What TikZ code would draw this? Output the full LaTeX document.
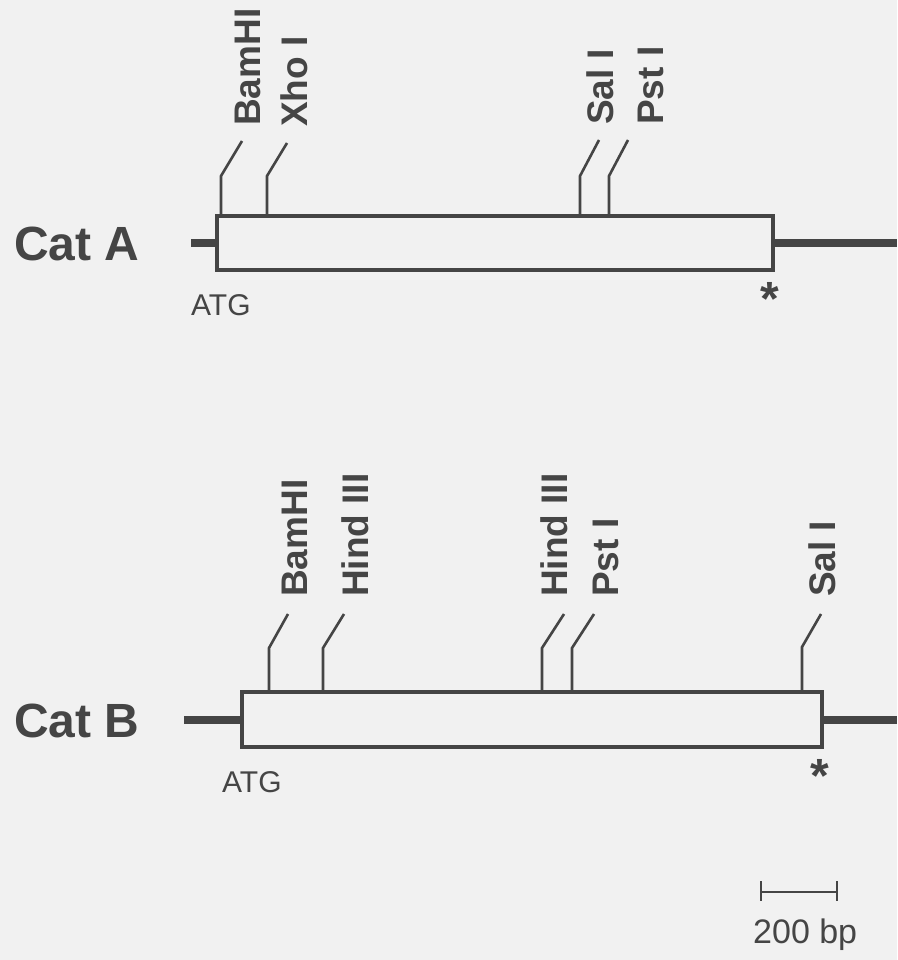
\documentclass[tikz,border=0pt]{standalone}
\usepackage{fontspec}
\setmainfont{Liberation Sans}
\definecolor{inkc}{HTML}{454545}
\definecolor{bgc}{HTML}{F1F1F1}
\begin{document}
\begin{tikzpicture}[x=1pt,y=-1pt,
  gene/.style={draw=inkc, line width=4.5pt, rectangle, inner sep=0pt, outer sep=0pt},
  flank/.style={draw=inkc, line width=8pt},
  siteline/.style={draw=inkc, line width=2.6pt},
  lbl/.style={text=inkc, font=\bfseries\fontsize{37}{37}\selectfont, rotate=90, anchor=base west, inner sep=0pt},
  catlbl/.style={text=inkc, font=\bfseries\fontsize{48}{48}\selectfont, anchor=base west, inner sep=0pt},
  atg/.style={text=inkc, font=\fontsize{30}{30}\selectfont, anchor=base west, inner sep=0pt},
  stop/.style={text=inkc, font=\bfseries\fontsize{48}{48}\selectfont, anchor=base, inner sep=0pt},
  scalebar/.style={draw=inkc, line width=2.4pt}]
\fill[bgc] (0,0) rectangle (897,960);
\useasboundingbox (0,0) rectangle (897,960);

% ---------- Cat A ----------
\node[catlbl] (catA) at (14,260) {Cat A};
\node[gene, minimum width=556pt, minimum height=54pt] (boxA) at (495,243) {};
\coordinate (fAl) at (191,243);
\coordinate (fAr) at (897,243);
\draw[flank] (fAl) -- (boxA.west);
\draw[flank] (boxA.east) -- (fAr);
\node[atg] (atgA) at (191,315) {ATG};
\node[stop] (stA) at (770,315) {*};

\coordinate (a1b) at (221,216); \coordinate (a1k) at (221,176); \coordinate (a1t) at (242,141);
\coordinate (a2b) at (267,216); \coordinate (a2k) at (267,176); \coordinate (a2t) at (287,143);
\coordinate (a3b) at (580,216); \coordinate (a3k) at (580,176); \coordinate (a3t) at (599,140);
\coordinate (a4b) at (609,216); \coordinate (a4k) at (609,176); \coordinate (a4t) at (628,140);
\draw[siteline] (a1b) -- (a1k) -- (a1t);
\draw[siteline] (a2b) -- (a2k) -- (a2t);
\draw[siteline] (a3b) -- (a3k) -- (a3t);
\draw[siteline] (a4b) -- (a4k) -- (a4t);
\node[lbl] (la1) at (260,126) {BamHI};
\node[lbl] (la2) at (307,127) {Xho I};
\node[lbl] (la3) at (613,125) {Sal I};
\node[lbl] (la4) at (663,125) {Pst I};

% ---------- Cat B ----------
\node[catlbl] (catB) at (14,737) {Cat B};
\node[gene, minimum width=580pt, minimum height=55pt] (boxB) at (532,719.5) {};
\coordinate (fBl) at (184,719.5);
\coordinate (fBr) at (897,719.5);
\draw[flank] (fBl) -- (boxB.west);
\draw[flank] (boxB.east) -- (fBr);
\node[atg] (atgB) at (222,792) {ATG};
\node[stop] (stB) at (820,792) {*};

\coordinate (b1b) at (269,692); \coordinate (b1k) at (269,648); \coordinate (b1t) at (288,614);
\coordinate (b2b) at (323,692); \coordinate (b2k) at (323,648); \coordinate (b2t) at (344,614);
\coordinate (b3b) at (542,692); \coordinate (b3k) at (542,648); \coordinate (b3t) at (564,614);
\coordinate (b4b) at (572,692); \coordinate (b4k) at (572,648); \coordinate (b4t) at (594,614);
\coordinate (b5b) at (802,692); \coordinate (b5k) at (802,647); \coordinate (b5t) at (821,614);
\draw[siteline] (b1b) -- (b1k) -- (b1t);
\draw[siteline] (b2b) -- (b2k) -- (b2t);
\draw[siteline] (b3b) -- (b3k) -- (b3t);
\draw[siteline] (b4b) -- (b4k) -- (b4t);
\draw[siteline] (b5b) -- (b5k) -- (b5t);
\node[lbl] (lb1) at (307,597) {BamHI};
\node[lbl] (lb2) at (368,597) {Hind III};
\node[lbl] (lb3) at (567,597) {Hind III};
\node[lbl] (lb4) at (618,597) {Pst I};
\node[lbl] (lb5) at (835,597) {Sal I};

% ---------- scale bar ----------
\coordinate (s1) at (761,892); \coordinate (s2) at (837,892);
\coordinate (s1u) at (761,881); \coordinate (s1d) at (761,901);
\coordinate (s2u) at (837,881); \coordinate (s2d) at (837,901);
\draw[scalebar] (s1) -- (s2);
\draw[scalebar] (s1u) -- (s1d);
\draw[scalebar] (s2u) -- (s2d);
\node[atg, font=\fontsize{34}{34}\selectfont] (sbl) at (753,943) {200 bp};
\end{tikzpicture}
\end{document}
